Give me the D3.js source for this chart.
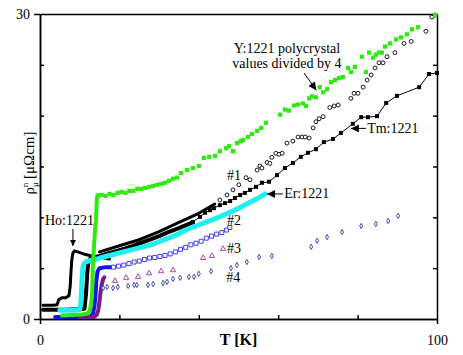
<!DOCTYPE html>
<html>
<head>
<meta charset="utf-8">
<script src="https://cdn.jsdelivr.net/npm/d3@7"></script>
<style>
  body { margin: 0; background: #fff; }
  svg { display: block; }
</style>
</head>
<body>
<div id="chart"></div>
<script>
var width = 463,
    height = 355,
    serif = "'Liberation Serif'";

// axis ticks
var xMajor = [0, 100],
    xMinor = [20, 40, 60, 80],
    yMajor = [0, 30],
    yMinor = [5, 10, 15, 20, 25];

// [T (K), rho (uOhm cm)]
var yLow = [[5.5,0.35],[8,0.4],[10.5,0.45],[12,0.55],[12.6,0.9],[13.1,2.2],[13.35,5.5],[13.85,8.75],[14.1,9.7],[14.35,12.0],[14.6,12.2]];
var yPoly = [[14.6,12.1],[15.5,12.2],[16.5,12.1],[17.5,12.3],[18.5,12.2],[19.5,12.4],[20.5,12.5],[21.5,12.4],[22.5,12.6],
  [23.5,12.6],[24.5,12.8],[25.5,12.8],[26.5,12.9],[27.5,13.0],[28.5,13.1],[29.5,13.2],[30.5,13.3],[31.5,13.4],[32.5,13.6],
  [33.5,13.8],[34.5,13.9],[35.5,14.35],[37.0,14.65],[38.5,14.85],[40.0,15.05],[41.3,15.85],[42.6,15.95],[44.1,16.05],
  [45.3,16.5],[46.9,16.8],[47.6,17.0],[48.6,16.5],[49.6,17.3],[50.6,17.5],[51.1,17.6],[52.4,17.9],[53.4,18.2],[54.7,18.5],
  [55.7,18.8],[56.9,19.3],[60.5,20.1],[61.7,20.6],[62.7,20.5],[64.0,21.0],[65.0,21.1],[66.2,21.2],[67.0,20.95],[67.8,21.7],
  [68.5,21.9],[69.5,21.8],[70.5,22.8],[71.3,22.3],[72.3,22.6],[73.3,23.3],[74.3,23.5],[75.3,23.7],[76.3,23.8],[77.6,24.7],
  [78.3,24.3],[79.3,24.8],[81.1,25.8],[82.1,24.3],[82.9,26.2],[83.9,25.7],[84.6,26.0],[85.4,26.2],[86.1,26.2],[86.9,26.8],
  [88.2,27.1],[89.7,27.5],[90.9,27.7],[92.4,28.0],[93.7,28.5],[95.2,28.7],[99.5,29.9]];

var hoDense = [[0.8,1.35],[2.0,1.35],[3.2,1.35],[4.3,1.4],[4.7,1.9],[5.5,2.1],[6.5,2.1],[7.3,2.3],[7.6,3.2],[7.8,4.6],
  [8.0,5.8],[8.3,6.5],[8.7,6.7],[9.5,6.6],[11,6.4],[13,6.2],[15,6.05],[17.5,5.9]];

var tmDense = [[0.8,0.9],[4.2,0.9],[6,0.9],[9,0.95],[11.2,1.0],[11.6,2.5],[11.9,4.5],[12.2,5.7],[12.8,6.0],[14,6.1],
  [15.1,6.2],[17,6.45],[19.4,6.7],[21.5,6.95],[23.4,7.2],[25.5,7.5],[27.7,7.8],[30,8.15],[32,8.5],[34,8.8],[36,9.1],[38.5,9.5]];
var tmPoints = [[38.5,9.55],[40.3,10.05],[41.6,10.45],[42.8,10.7],[43.8,10.9],[45.3,11.2],[46.6,11.4],[47.9,11.6],[49.1,11.9],
  [50.4,12.2],[51.6,12.4],[52.9,12.7],[54.4,13.0],[55.9,13.4],[57.7,13.5],[59.7,14.15],[61.7,14.85],[63.7,15.35],[65.7,15.95],
  [67.5,16.35],[69.5,16.7],[71.5,17.4],[73.8,17.7],[75.8,18.3],[78.8,19.2],[80.9,19.85],[82.6,19.85],[84.9,19.95],[87.2,21.25],
  [89.9,21.95],[95.5,22.8],[98.0,24.1],[100,24.2]];

var s1Dense = [[15,6.6],[20,7.2],[25,7.8],[30,8.6],[35,9.5],[40,10.4],[44,11.3]];
var s1Points = [[45.3,11.7],[47.1,12.2],[48.6,12.7],[50.1,13.2],[51.9,13.9],[52.9,13.7],[54.7,14.65],[55.4,15.05],[55.9,14.85],
  [57.2,15.4],[57.9,15.3],[58.4,15.9],[59.4,16.3],[60.2,16.2],[61.0,16.3],[62.2,17.3],[63.7,17.5],[65.0,17.9],[66.0,17.9],
  [66.8,17.9],[67.8,17.8],[68.8,18.8],[69.5,19.4],[70.3,19.7],[71.3,19.9],[73.0,20.8],[74.1,20.95],[75.1,21.05],[78.3,21.7],
  [79.1,22.2],[80.1,22.2],[81.4,22.8],[82.4,23.5],[83.4,24.0],[84.4,24.7],[85.4,25.2],[86.4,25.2],[87.4,25.8],[89.4,26.2],
  [91.7,27.1],[93.5,27.3],[97.2,28.3],[98.7,29.7],[99.5,29.9]];

var erDense = [[5,0.85],[8,0.85],[10,0.9],[10.3,1.6],[10.5,3.2],[10.7,4.6],[10.9,5.3],[11.4,5.6],[12.5,5.75],[14,5.85],
  [15.1,6.0],[17,6.2],[19,6.4],[21,6.6],[23,6.8],[25,7.0],[27,7.2],[29,7.45],[31,7.75],[33,8.05],[35,8.4],[37,8.8],[39,9.1],
  [41,9.4],[43,9.7],[45,10.0],[47,10.35],[49,10.7],[51,11.1],[53,11.5],[55,11.9],[56.7,12.3]];

var s2Dense = [[3.8,0.2],[8,0.2],[12.6,0.2],[13.3,0.5],[13.7,1.2],[14.0,2.5],[14.2,3.8],[14.5,4.7],[15,5.0],[16.5,5.1],[18.1,5.1]];
var s2Points = [[18.5,5.1],[19.8,5.2],[21.1,5.3],[22.4,5.45],[23.7,5.6],[25,5.7],[26.3,5.85],[27.6,6.0],[28.9,6.05],[30.2,6.15],
  [31.5,6.25],[32.8,6.4],[34.1,6.6],[35.4,6.85],[36.7,7.05],[38,7.3],[39.3,7.45],[40.6,7.65],[41.9,7.95],[43.2,8.15],
  [44.5,8.35],[45.8,8.5],[47.0,8.75],[47.8,9.0]];

var s3Dense = [[10,0.2],[13.5,0.2],[14.3,0.4],[14.7,0.9],[15,1.8],[15.3,2.8],[15.6,3.5],[15.9,3.9],[16.2,4.1]];
var s3Points = [[18.9,3.75],[21.7,4.05],[24.7,4.15],[27.5,4.5],[30.5,4.7],[33.5,4.8],[41.1,6.0],[43.3,6.2],[46.1,6.9]];

var s4Points = [[15.9,3.05],[16.9,3.15],[18.4,3.05],[19.6,3.15],[22.2,3.25],[23.7,3.35],[24.4,3.35],[27.2,3.35],[28.5,3.45],
  [31.0,3.55],[32.0,3.65],[33.5,3.95],[35.3,4.05],[37.5,4.15],[38.8,4.15],[40.0,4.45],[43.1,4.7],[48.1,5.0],[49.6,5.3],
  [52.1,5.6],[55.2,6.1],[58.4,6.2],[68.3,7.1],[69.8,7.7],[72.3,8.05],[76.1,8.55],[80.9,9.15],[84.6,9.35],[87.7,9.65],[90.2,10.15]];

var x = d3.scaleLinear().domain([0, 100]).range([40, 437]),
    y = d3.scaleLinear().domain([0, 30]).range([319, 14]);

var svg = d3.select("#chart").append("svg")
    .attr("width", width)
    .attr("height", height);

var defs = svg.append("defs");
defs.append("marker")
    .attr("id", "head")
    .attr("markerUnits", "userSpaceOnUse")
    .attr("viewBox", "0 -5 10 10")
    .attr("refX", 10)
    .attr("refY", 0)
    .attr("markerWidth", 12)
    .attr("markerHeight", 8)
    .attr("orient", "auto")
  .append("path")
    .attr("d", "M0,-5L10,0L0,5Z")
    .attr("fill", "black");
defs.append("marker")
    .attr("id", "headSmall")
    .attr("markerUnits", "userSpaceOnUse")
    .attr("viewBox", "0 -5 10 10")
    .attr("refX", 10)
    .attr("refY", 0)
    .attr("markerWidth", 8)
    .attr("markerHeight", 6)
    .attr("orient", "auto")
  .append("path")
    .attr("d", "M0,-5L10,0L0,5Z")
    .attr("fill", "black");

// axes
svg.append("g")
    .attr("transform", "translate(0," + y(0) + ")")
    .call(d3.axisBottom(x).tickValues(xMajor).tickSize(5).tickSizeOuter(0).tickPadding(11));
svg.append("g")
    .attr("transform", "translate(0," + y(0) + ")")
    .call(d3.axisBottom(x).tickValues(xMinor).tickSize(-4).tickSizeOuter(0).tickFormat(""));
svg.append("g")
    .attr("transform", "translate(" + x(0) + ",0)")
    .call(d3.axisLeft(y).tickValues(yMajor).tickSize(6).tickSizeOuter(0).tickPadding(4));
svg.append("g")
    .attr("transform", "translate(" + x(0) + ",0)")
    .call(d3.axisLeft(y).tickValues(yMinor).tickSize(-4).tickSizeOuter(0).tickFormat(""));
svg.append("g")
    .attr("transform", "translate(" + x(100) + ",0)")
    .call(d3.axisLeft(y).tickValues(yMinor).tickSize(4).tickSizeOuter(0).tickFormat(""));
svg.append("g")
    .attr("transform", "translate(0," + y(30) + ")")
    .call(d3.axisTop(x).tickValues([]).tickSizeOuter(0));

svg.selectAll(".domain, .tick line")
    .attr("stroke", "black")
    .attr("stroke-width", 1.5);
svg.selectAll(".tick text")
    .style("font-family", serif)
    .attr("font-size", 14)
    .attr("fill", "black");

svg.append("text")
    .attr("x", x(50))
    .attr("y", 345)
    .attr("text-anchor", "middle")
    .style("font-family", serif)
    .attr("font-size", 16)
    .attr("font-weight", "bold")
    .text("T [K]");

var ylab = svg.append("text")
    .attr("transform", "translate(34,163) rotate(-90)")
    .attr("text-anchor", "middle")
    .style("font-family", serif)
    .attr("font-size", 15);
ylab.append("tspan").text("ρ");
ylab.append("tspan").attr("font-size", 9).attr("dy", 4).text("μ");
ylab.append("tspan").attr("font-size", 9).attr("dx", -5).attr("dy", -10).text("n");
ylab.append("tspan").attr("dy", 6).text(" [μΩcm]");

// series
var line = d3.line()
    .x(function(d) { return x(d[0]); })
    .y(function(d) { return y(d[1]); });

function dense(data, color, w) {
  svg.append("path")
      .datum(data)
      .attr("d", line)
      .attr("fill", "none")
      .attr("stroke", color)
      .attr("stroke-width", w)
      .attr("stroke-linejoin", "round")
      .attr("stroke-linecap", "round");
}

function points(data, type, size, fill, stroke) {
  svg.append("g").selectAll("path")
      .data(data)
    .enter().append("path")
      .attr("transform", function(d) { return "translate(" + x(d[0]) + "," + y(d[1]) + ")"; })
      .attr("d", d3.symbol().type(type).size(size))
      .attr("fill", fill)
      .attr("stroke", stroke)
      .attr("stroke-width", 0.9);
}

dense(hoDense, "black", 3);
dense(tmDense, "black", 4);
dense(s1Dense, "black", 3);
svg.append("path")
    .datum(tmPoints)
    .attr("d", line)
    .attr("fill", "none")
    .attr("stroke", "black")
    .attr("stroke-width", 1);
points(tmPoints, d3.symbolSquare, 16, "black", "none");
points(s1Points, d3.symbolCircle, 12, "white", "black");
dense(erDense, "#22eeee", 5);
dense(s2Dense, "#1414f0", 4);
points(s2Points, d3.symbolSquare, 16, "white", "#2a2af0");
dense(s3Dense, "#7a1a8a", 4);
points(s3Points, d3.symbolTriangle, 12, "white", "#a030a0");
points(s4Points, d3.symbolDiamond, 8, "white", "#3434a8");
dense(yLow, "#2eea10", 4);
points(yPoly, d3.symbolSquare, 18, "#2eea10", "none");

// annotations
function label(T, r, txt, anchor) {
  svg.append("text")
      .attr("x", x(T))
      .attr("y", y(r))
      .attr("text-anchor", anchor || "start")
      .style("font-family", serif)
      .attr("font-size", 14)
      .text(txt);
}

function arrow(T1, r1, T2, r2, head) {
  svg.append("line")
      .attr("x1", x(T1))
      .attr("y1", y(r1))
      .attr("x2", x(T2))
      .attr("y2", y(r2))
      .attr("stroke", "black")
      .attr("stroke-width", 1)
      .attr("marker-end", "url(#" + head + ")");
}

label(1.26, 9.25, "Ho:1221");
arrow(8.3, 8.85, 8.3, 7.18, "headSmall");
label(61.5, 11.9, "Er:1221");
arrow(61.2, 12.3, 57.2, 12.3, "head");
label(82.4, 18.3, "Tm:1221");
arrow(82.1, 18.75, 78.3, 18.75, "head");
label(62.2, 26.16, "Y:1221 polycrystal", "middle");
label(62.2, 24.69, "values divided by 4", "middle");
arrow(66.5, 24.2, 69.6, 22.5, "head");
label(47.1, 13.67, "#1");
label(47.1, 9.25, "#2");
label(47.1, 6.5, "#3");
label(46.9, 3.64, "#4");
</script>
</body>
</html>
